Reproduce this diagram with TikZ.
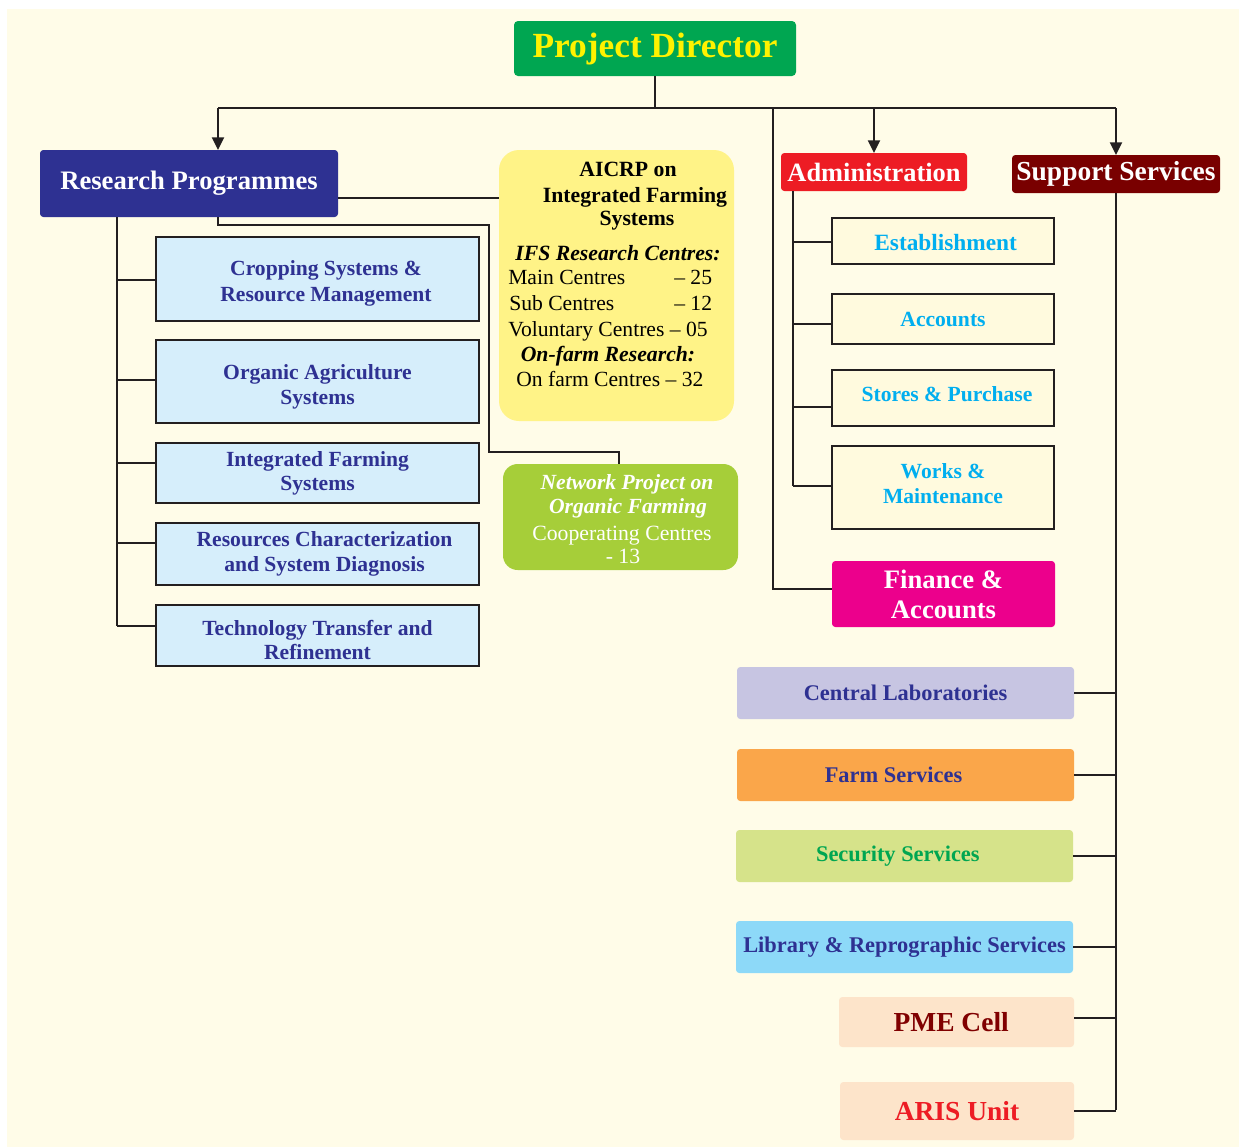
\documentclass[tikz,border=0pt]{standalone}
\usepackage{fontspec}
\setmainfont{Liberation Serif}
\usetikzlibrary{arrows.meta,calc}

\definecolor{bgcream}{RGB}{255,252,232}
\definecolor{inkline}{RGB}{35,31,32}
\definecolor{pdgreen}{RGB}{0,166,81}
\definecolor{pdyellow}{RGB}{255,242,0}
\definecolor{navy}{RGB}{46,49,146}
\definecolor{admred}{RGB}{237,28,36}
\definecolor{supmaroon}{RGB}{121,0,0}
\definecolor{skyfill}{RGB}{214,238,251}
\definecolor{subfill}{RGB}{255,250,222}
\definecolor{cyantext}{RGB}{0,174,239}
\definecolor{aicrpfill}{RGB}{255,243,135}
\definecolor{netgreen}{RGB}{166,206,57}
\definecolor{finmag}{RGB}{236,0,140}
\definecolor{labfill}{RGB}{199,197,226}
\definecolor{farmfill}{RGB}{250,166,74}
\definecolor{secfill}{RGB}{214,227,138}
\definecolor{libfill}{RGB}{141,217,248}
\definecolor{peach}{RGB}{253,228,202}
\definecolor{pmetext}{RGB}{128,0,0}

\newcommand\fsz[2]{\fontsize{#1}{#2}\selectfont}
% box given by its corners (x1,y1) and (x2,y2) in pixel units
\newcommand\blk[6]{\node[#2, inner sep=0pt, outer sep=0pt,
  minimum width={(#5-#3)*0.75pt}, minimum height={(#6-#4)*0.75pt}]
  (#1) at ({(#3+#5)/2},{(#4+#6)/2})}

\tikzset{
  conn/.style={draw=inkline, line width=1.6pt},
  arr/.style={conn, -{Triangle[width=9pt,length=9.5pt]}},
  head/.style={rounded corners=2.5pt, text=white, align=center, font=\fsz{20}{22.5}\bfseries},
  rpbox/.style={draw=inkline, line width=1.9pt, fill=skyfill},
  rptext/.style={inner sep=0pt, text=navy, align=center, font=\fsz{16.2}{19.5}\bfseries},
  rpsub/.style={rpbox, rptext},
  admbox/.style={draw=inkline, line width=1.9pt, fill=subfill},
  admtext/.style={inner sep=0pt, text=cyantext, align=center, font=\fsz{16.2}{19}\bfseries},
  admsub/.style={admbox, admtext},
  supsub/.style={rounded corners=2.5pt, font=\fsz{16.8}{20}\bfseries},
  aitxt/.style={inner sep=0pt, anchor=base, font=\fsz{16.3}{19}\bfseries},
  aireg/.style={inner sep=0pt, anchor=base west, font=\fsz{16.2}{19}},
  nettxt/.style={inner sep=0pt, anchor=base, text=white, font=\fsz{16.3}{19}},
}

\begin{document}
\begin{tikzpicture}[x=0.75pt, y=-0.75pt]
\useasboundingbox (0,0) rectangle (1239,1147);
\fill[white] (0,0) rectangle (1239,1147);
\fill[bgcream] (7,9) rectangle (1239,1147);

% top level
\blk{pd}{fill=pdgreen, rounded corners=3pt, text=pdyellow, font=\fsz{26.5}{30}\bfseries}{514}{21}{796}{76}{Project Director};
\blk{rp}{head, fill=navy}{40}{150}{338}{217}{Research Programmes};
\blk{adm}{head, fill=admred, font=\fsz{19.8}{22}\bfseries}{781}{153}{967}{191}{Administration};
\blk{sup}{head, fill=supmaroon, font=\fsz{20.6}{23}\bfseries}{1012}{155}{1220}{193}{Support Services};

% research programmes
\blk{cs}{rpbox}{156}{237}{479}{321}{};
\node[rptext] (csT) at ([yshift=-3.5pt]cs.center) {\hspace*{12.75pt}Cropping Systems \&\\\hspace*{12.75pt}Resource Management};
\blk{oa}{rpbox}{156}{340}{479}{423}{};
\node[rptext, font=\fsz{16.2}{18.5}\bfseries] (oaT) at ([yshift=-4pt]oa.center) {Organic Agriculture\\Systems};
\blk{ifs}{rpsub, font=\fsz{16.2}{18}\bfseries}{156}{443}{479}{503}{Integrated Farming\\Systems};
\blk{rc}{rpsub, font=\fsz{16.2}{18.5}\bfseries}{156}{523}{479}{585}{\hspace*{10.5pt}Resources Characterization\\\hspace*{10.5pt}and System Diagnosis};
\blk{tt}{rpbox}{156}{605}{479}{666}{};
\node[rptext, font=\fsz{16.2}{18}\bfseries] (ttT) at ([yshift=-3.5pt]tt.center) {Technology Transfer and\\Refinement};

% AICRP panel
\blk{aicrp}{fill=aicrpfill, rounded corners=15pt}{499}{150}{734}{421}{};
\node[aitxt] (ai1) at (628,176) {AICRP on};
\node[aitxt] (ai2) at (635,202.5) {Integrated Farming};
\node[aitxt] (ai3) at (637,225.7) {Systems};
\node[aitxt, font=\fsz{16.3}{19}\bfseries\itshape] (ai4) at (618,260) {IFS Research Centres:};
\node[aireg] (ai5) at (508,284.3) {Main Centres};
\node[aireg] (ai5n) at (674,284.3) {\textendash{} 25};
\node[aireg] (ai6) at (509,310) {Sub Centres};
\node[aireg] (ai6n) at (674,310) {\textendash{} 12};
\node[aireg] (ai7) at (508,336.7) {Voluntary Centres \textendash{} 05};
\node[aitxt, font=\fsz{16.3}{19}\bfseries\itshape] (ai8) at (608,361.7) {On-farm Research:};
\node[aireg] (ai9) at (516,386.7) {On farm Centres \textendash{} 32};

% network project panel
\blk{net}{fill=netgreen, rounded corners=11pt}{503}{464}{738}{570}{};
\node[nettxt, font=\fsz{16.2}{19}\bfseries\itshape] (n1) at (627,489) {Network Project on};
\node[nettxt, font=\fsz{16.2}{19}\bfseries\itshape] (n2) at (628,513) {Organic Farming};
\node[nettxt] (n3) at (622,540) {Cooperating Centres};
\node[nettxt] (n4) at (623,563) {- 13};

% administration units
\blk{est}{admbox}{832}{218}{1054}{264}{};
\node[admtext, font=\fsz{17.5}{20}\bfseries] (estT) at ([yshift=-1.5pt,xshift=2pt]est.center) {Establishment};
\blk{acc}{admsub}{832}{294}{1054}{344}{Accounts};
\blk{sto}{admbox}{832}{370}{1054}{426}{};
\node[admtext] (stoT) at ([yshift=3pt,xshift=3pt]sto.center) {Stores \& Purchase};
\blk{wor}{admbox}{832}{446}{1054}{529}{};
\node[admtext] (worT) at ([yshift=3pt]wor.center) {Works \&\\Maintenance};
\blk{fin}{head, fill=finmag, font=\fsz{20}{22.5}\bfseries}{832}{561}{1055}{627}{Finance \&\\Accounts};

% support units
\blk{lab}{supsub, fill=labfill, text=navy}{737}{667}{1074}{719}{Central Laboratories};
\blk{farm}{supsub, fill=farmfill, text=navy}{737}{749}{1074}{801}{Farm Services\hspace*{18pt}};
\blk{sec}{supsub, fill=secfill, text=pdgreen}{736}{830}{1073}{882}{Security Services\hspace*{10pt}};
\blk{lib}{supsub, fill=libfill, text=navy}{736}{921}{1073}{973}{Library \& Reprographic Services};
\blk{pme}{supsub, fill=peach, text=pmetext, font=\fsz{20.6}{24}\bfseries}{839}{997}{1074}{1047}{PME Cell\hspace*{8pt}};
\blk{aris}{supsub, fill=peach, text=admred, font=\fsz{20.6}{24}\bfseries}{840}{1082}{1074}{1140}{ARIS Unit};

% top distribution bus
\coordinate (busL) at (218,108);
\coordinate (busR) at (1116,108);
\coordinate (finbus) at (773,108);
\draw[conn] (pd.south) -- (pd.south |- busL);
\draw[conn] (busL) -- (busR);
\draw[arr] (busL) -- (busL |- rp.north);
\draw[arr] (adm.north |- busL) -- (adm.north);
\draw[arr] (busR) -- (sup.north);
\draw[conn] (finbus) |- ($(fin.west)+(0,-5)$);

% research programmes links
\draw[conn] (rp.east |- 0,198) -- (aicrp.west |- 0,198);
\draw[conn] (busL |- rp.south) |- (489,225) |- (619,452) -- (net.north -| 619,0);
\coordinate (rpbus) at (117,217);
\draw[conn] (rpbus) -- (rpbus |- 0,626);
\draw[conn] (rpbus |- 0,280) -- (cs.west |- 0,280);
\draw[conn] (rpbus |- 0,380) -- (oa.west |- 0,380);
\draw[conn] (rpbus |- 0,463) -- (ifs.west |- 0,463);
\draw[conn] (rpbus |- 0,543) -- (rc.west |- 0,543);
\draw[conn] (rpbus |- 0,626) -- (tt.west |- 0,626);

% administration links
\coordinate (admbus) at (793,191);
\draw[conn] (admbus) -- (admbus |- 0,486);
\draw[conn] (admbus |- 0,241.7) -- (est.west |- 0,241.7);
\draw[conn] (admbus |- 0,323.7) -- (acc.west |- 0,323.7);
\draw[conn] (admbus |- 0,406.7) -- (sto.west |- 0,406.7);
\draw[conn] (admbus |- 0,485.7) -- (wor.west |- 0,485.7);

% support services links
\draw[conn] (sup.south) -- (sup.south |- 0,1110);
\draw[conn] (lab.east) -- (lab.east -| sup.south);
\draw[conn] (farm.east) -- (farm.east -| sup.south);
\draw[conn] (sec.east) -- (sec.east -| sup.south);
\draw[conn] (lib.east) -- (lib.east -| sup.south);
\draw[conn] (pme.east |- 0,1018) -- (sup.south |- 0,1018);
\draw[conn] (aris.east) -- (aris.east -| sup.south);
\end{tikzpicture}
\end{document}
